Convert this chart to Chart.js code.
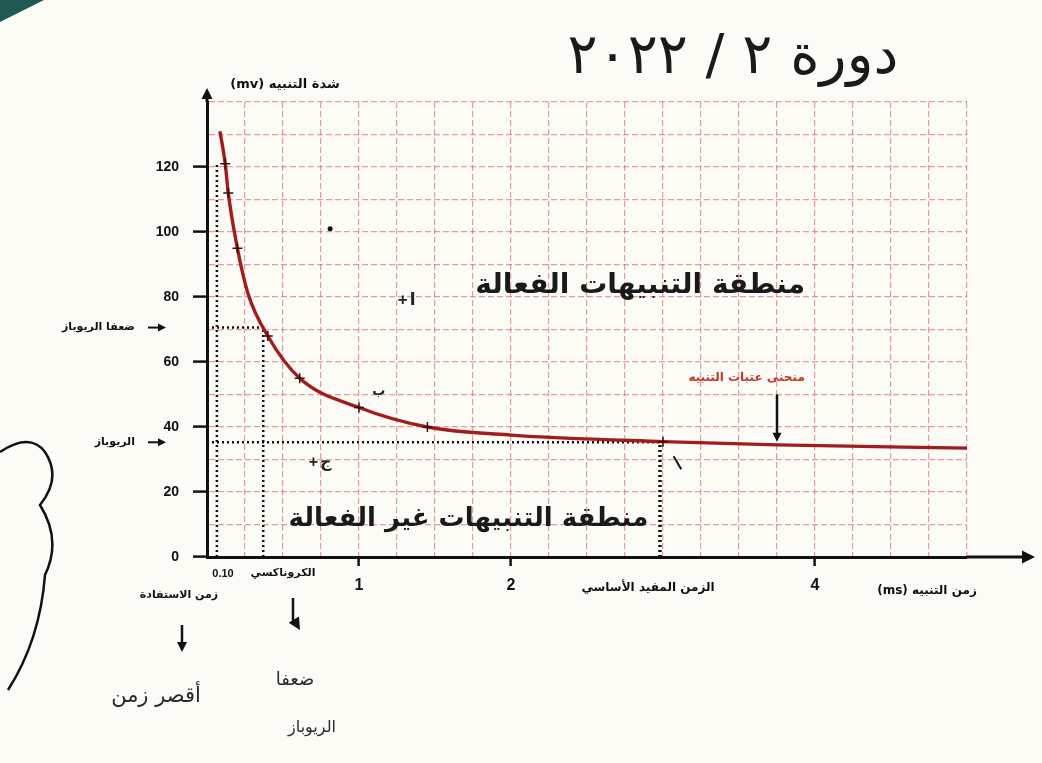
<!DOCTYPE html>
<html>
<head>
<meta charset="utf-8">
<script src="https://cdn.jsdelivr.net/npm/chart.js@4.4.1/dist/chart.umd.min.js"></script>
<style>
  body { margin: 0; background: #fcfbf6; }
  #wrap { width: 1042px; height: 763px; position: relative; }
</style>
</head>
<body>
<div id="wrap"><canvas id="c"></canvas></div>
<script>
// strength-duration curve
const curveX = [0.085, 0.12, 0.14, 0.2, 0.27, 0.4, 0.61, 1.0, 1.45, 2.0, 3.0, 3.75, 5.0];
const curveY = [131, 121, 112, 95, 81, 68, 55, 46, 40, 37.5, 35.5, 34.5, 33.5];
const markedX = [0.12, 0.14, 0.2, 0.4, 0.61, 1.0, 1.45, 3.0];

const rheobase = 35.3;
const doubleRheobase = 70.6;
const chronaxie = 0.37;
const mainUsefulTime = 2.98;
const utilX = 0.065;
const utilTop = 121;

const xLabeled = [1, 2, 4];
const yLabeled = [0, 20, 40, 60, 80, 100, 120];
const xMax = 5, yMax = 140;

const AR = '"DejaVu Sans", "Noto Sans", sans-serif';
const LAT = '"Liberation Sans", Arial, sans-serif';

function dotted(points) {
  return {
    type: 'line',
    data: points,
    borderColor: '#111',
    borderWidth: 2.5,
    borderDash: [2, 3],
    pointRadius: 0,
    fill: false
  };
}

function txt(ctx, s, x, y, font, color, align, dir) {
  ctx.save();
  ctx.font = font;
  ctx.fillStyle = color || '#111';
  ctx.textAlign = align || 'center';
  ctx.textBaseline = 'middle';
  ctx.direction = dir || 'rtl';
  ctx.fillText(s, x, y);
  ctx.restore();
}

function arrowHead(ctx, x, y, dx, dy, size) {
  const len = Math.hypot(dx, dy);
  const ux = dx / len, uy = dy / len;
  ctx.beginPath();
  ctx.moveTo(x, y);
  ctx.lineTo(x - ux * size - uy * size * 0.5, y - uy * size + ux * size * 0.5);
  ctx.lineTo(x - ux * size + uy * size * 0.5, y - uy * size - ux * size * 0.5);
  ctx.closePath();
  ctx.fill();
}

const decorations = {
  id: 'decorations',
  beforeDraw(chart) {
    const ctx = chart.ctx;
    ctx.save();
    ctx.fillStyle = '#fcfbf6';
    ctx.fillRect(0, 0, chart.width, chart.height);
    // corner of the folder in the photo
    ctx.fillStyle = '#1f5a52';
    ctx.beginPath();
    ctx.moveTo(0, 0); ctx.lineTo(44, 0); ctx.lineTo(0, 22); ctx.closePath();
    ctx.fill();
    ctx.restore();
  },
  afterDraw(chart) {
    const ctx = chart.ctx;
    const xs = chart.scales.x, ys = chart.scales.y;
    const a = chart.chartArea;
    const px = v => xs.getPixelForValue(v);
    const py = v => ys.getPixelForValue(v);

    ctx.save();
    ctx.fillStyle = '#111';
    ctx.strokeStyle = '#111';
    // axis extensions with arrows
    ctx.lineWidth = 3;
    ctx.beginPath();
    ctx.moveTo(a.right, a.bottom); ctx.lineTo(a.right + 62, a.bottom);
    ctx.moveTo(a.left, a.top); ctx.lineTo(a.left, a.top - 8);
    ctx.stroke();
    arrowHead(ctx, a.right + 68, a.bottom, 1, 0, 13);
    arrowHead(ctx, a.left, a.top - 14, 0, -1, 11);

    // axis titles
    txt(ctx, 'شدة التنبيه (mv)', a.left + 78, a.top - 17, 'bold 13px ' + AR);
    txt(ctx, 'زمن التنبيه (ms)', px(4) + 112, a.bottom + 34, 'bold 12px ' + AR);
    txt(ctx, 'الزمن المفيد الأساسي', px(mainUsefulTime) - 12, a.bottom + 31, 'bold 12px ' + AR);
    txt(ctx, 'الكروناكسي', px(0) + 76, a.bottom + 16, 'bold 11px ' + AR);
    txt(ctx, '0.10', px(0) + 16, a.bottom + 17, 'bold 11px ' + LAT, '#111', 'center', 'ltr');
    txt(ctx, 'زمن الاستفادة', px(0) - 28, a.bottom + 38, 'bold 11px ' + AR);

    // y-side labels with arrows
    const labY = [[doubleRheobase, 'ضعفا الريوباز'], [rheobase, 'الريوباز']];
    labY.forEach(([v, s]) => {
      const y = py(v);
      txt(ctx, s, 135, y, 'bold 11px ' + AR, '#111', 'right');
      ctx.lineWidth = 2;
      ctx.beginPath(); ctx.moveTo(148, y); ctx.lineTo(160, y); ctx.stroke();
      arrowHead(ctx, 166, y, 1, 0, 8);
    });

    // region labels
    txt(ctx, 'منطقة التنبيهات الفعالة', px(2.85), py(83.5), 'bold 28px ' + AR, '#1a1a1a');
    txt(ctx, 'منطقة التنبيهات غير الفعالة', px(1.72), py(11.5), 'bold 26px ' + AR, '#1a1a1a');
    txt(ctx, 'منحنى عتبات التنبيه', px(3.55), py(55), 'bold 12px ' + AR, '#c0392b');
    ctx.lineWidth = 2.5;
    ctx.beginPath(); ctx.moveTo(px(3.75), py(50)); ctx.lineTo(px(3.75), py(38)); ctx.stroke();
    arrowHead(ctx, px(3.75), py(35.5), 0, 1, 9);

    // small hand marks: plus sign on the left, letter on the right
    const marks = [['ا', 1.36, 79, 17], ['ج', 0.77, 29, 16]];
    marks.forEach(([s, x, y, f]) => {
      txt(ctx, '+', px(x) - 6, py(y), 'bold ' + f + 'px ' + LAT, '#222', 'right', 'ltr');
      txt(ctx, s, px(x) - 4, py(y), 'bold ' + f + 'px ' + AR, '#222', 'left', 'ltr');
    });
    txt(ctx, 'ب', px(1.13), py(51), 'bold 13px ' + AR, '#222');
    ctx.beginPath(); ctx.arc(px(0.81), py(101), 2.5, 0, Math.PI * 2); ctx.fill();
    ctx.lineWidth = 2;
    ctx.beginPath(); ctx.moveTo(px(3.07), py(31)); ctx.lineTo(px(3.12), py(27)); ctx.stroke();

    // handwriting
    txt(ctx, 'دورة ٢ / ٢٠٢٢', 733, 58, '56px ' + AR, '#1a1a1a');
    txt(ctx, 'أقصر زمن', 156, 697, '21px ' + AR, '#2a2a2a');
    txt(ctx, 'ضعفا', 295, 680, '18px ' + AR, '#2a2a2a');
    txt(ctx, 'الريوباز', 312, 728, '16px ' + AR, '#2a2a2a');
    ctx.lineWidth = 2.5;
    ctx.beginPath(); ctx.moveTo(182, 625); ctx.lineTo(182, 648); ctx.stroke();
    arrowHead(ctx, 182, 652, 0, 1, 10);
    ctx.beginPath(); ctx.moveTo(293, 598); ctx.lineTo(293, 622); ctx.stroke();
    arrowHead(ctx, 300, 630, 0.6, 1, 12);

    // hand-drawn brace on the left edge
    ctx.lineWidth = 2.5;
    ctx.beginPath();
    ctx.moveTo(0, 452);
    ctx.quadraticCurveTo(30, 432, 45, 452);
    ctx.quadraticCurveTo(62, 478, 40, 505);
    ctx.quadraticCurveTo(62, 540, 45, 575);
    ctx.quadraticCurveTo(40, 640, 8, 690);
    ctx.stroke();
    ctx.restore();
  }
};

const gridColor = ctx => ctx.tick && ctx.tick.value === 0 ? 'rgba(0,0,0,0)' : 'rgba(214,80,80,0.55)';

const cfg = {
  type: 'line',
  data: {
    datasets: [
      {
        label: 'curve',
        data: curveX.map((x, i) => ({ x, y: curveY[i] })),
        borderColor: '#a11d1d',
        borderWidth: 3.4,
        cubicInterpolationMode: 'monotone',
        pointStyle: 'cross',
        pointRadius: ctx => markedX.includes(curveX[ctx.dataIndex]) ? 5 : 0,
        pointBorderColor: '#3a0d0d',
        pointBorderWidth: 1.5,
        fill: false,
        order: 0
      },
      dotted([{ x: utilX, y: 0 }, { x: utilX, y: utilTop }]),
      dotted([{ x: 0, y: doubleRheobase }, { x: chronaxie, y: doubleRheobase }]),
      dotted([{ x: chronaxie, y: 0 }, { x: chronaxie, y: doubleRheobase }]),
      dotted([{ x: 0, y: rheobase }, { x: mainUsefulTime, y: rheobase }]),
      Object.assign(dotted([{ x: mainUsefulTime, y: 0 }, { x: mainUsefulTime, y: rheobase }]), { borderWidth: 3.5 })
    ]
  },
  options: {
    responsive: true,
    maintainAspectRatio: false,
    animation: false,
    layout: { padding: { top: 102, right: 75, left: 0, bottom: 0 } },
    plugins: { legend: { display: false }, tooltip: { enabled: false } },
    scales: {
      x: {
        type: 'linear',
        min: 0,
        max: xMax,
        afterBuildTicks: scale => {
          const t = [];
          for (let v = 0; v <= xMax; v += 0.25) t.push({ value: v });
          scale.ticks = t;
        },
        afterFit: scale => { scale.height = 206; },
        ticks: {
          autoSkip: false,
          maxRotation: 0,
          padding: 10,
          color: '#111',
          font: { family: LAT, size: 16, weight: 'bold' },
          callback: v => xLabeled.includes(v) ? String(v) : ''
        },
        grid: {
          color: gridColor,
          lineWidth: 1.2,
          tickLength: 9,
          tickColor: ctx => ctx.tick && xLabeled.includes(ctx.tick.value) ? '#111' : 'rgba(0,0,0,0)',
          tickWidth: 2.5,
          tickBorderDash: []
        },
        border: { display: true, color: '#111', width: 3, dash: [6, 3] }
      },
      y: {
        type: 'linear',
        min: 0,
        max: yMax,
        afterBuildTicks: scale => {
          const t = [];
          for (let v = 0; v <= yMax; v += 10) t.push({ value: v });
          scale.ticks = t;
        },
        afterFit: scale => { scale.width = 207; },
        ticks: {
          autoSkip: false,
          padding: 14,
          color: '#111',
          font: { family: LAT, size: 14, weight: 'bold' },
          callback: v => yLabeled.includes(v) ? String(v) : ''
        },
        grid: {
          color: gridColor,
          lineWidth: 1.2,
          tickLength: 14,
          tickColor: ctx => ctx.tick && yLabeled.includes(ctx.tick.value) ? '#111' : 'rgba(0,0,0,0)',
          tickWidth: 2.5,
          tickBorderDash: []
        },
        border: { display: true, color: '#111', width: 3, dash: [6, 3] }
      }
    }
  },
  plugins: [decorations]
};

new Chart(document.getElementById('c'), cfg);
</script>
</body>
</html>
